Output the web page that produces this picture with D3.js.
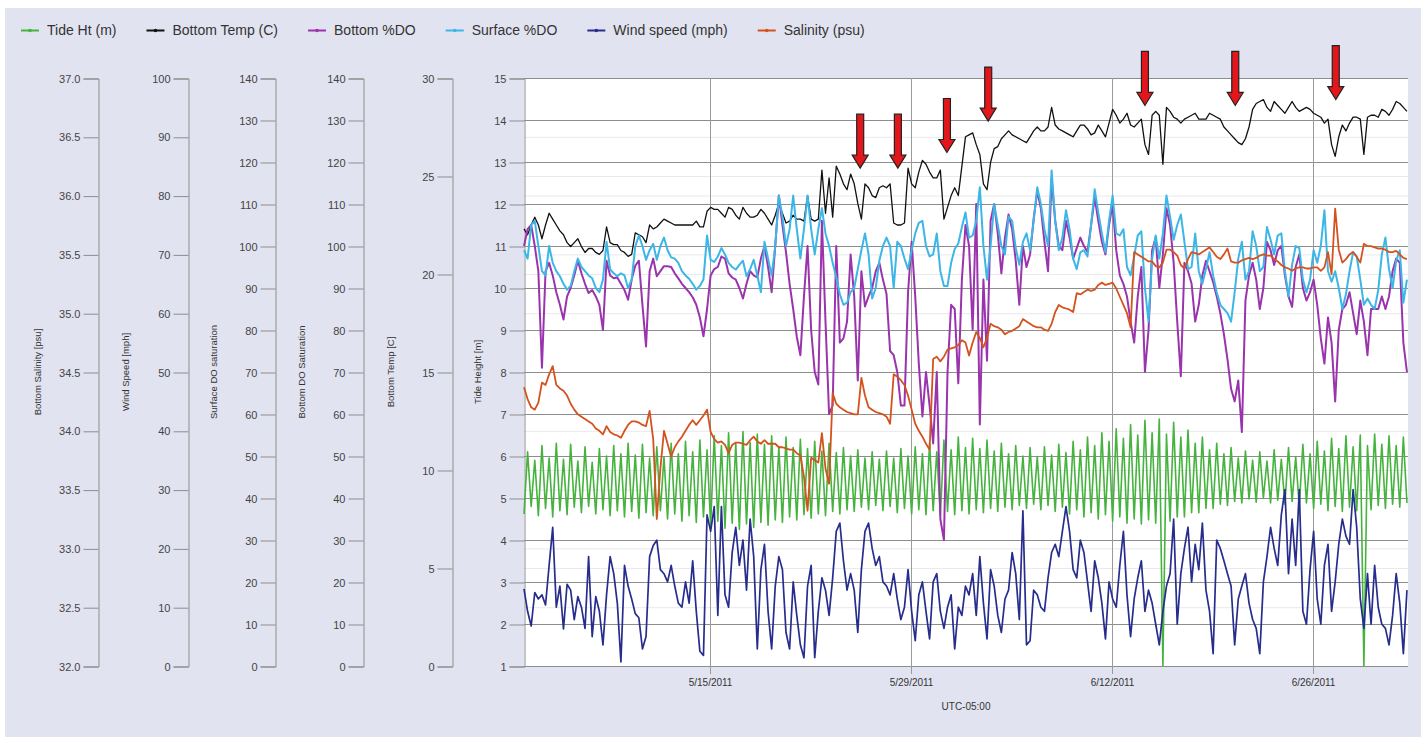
<!DOCTYPE html>
<html>
<head>
<meta charset="utf-8">
<script src="https://cdn.jsdelivr.net/npm/d3@7"></script>
<style>
body { margin: 0; background: #ffffff; }
svg { font-family: "Liberation Sans", Arial, sans-serif; }
</style>
</head>
<body>
<div id="chart"></div>
<script>
// time grid: one reading every 6 hours starting 5/2/2011 01:00
var startTime = new Date(2011, 4, 2, 1, 0)
var endTime = new Date(2011, 6, 2, 14, 45)
var stepHours = 6
var dateTicks = [new Date(2011, 4, 15), new Date(2011, 4, 29), new Date(2011, 5, 12), new Date(2011, 5, 26)]

// series values
var tideHt = [
  4.62, 6.10, 4.80, 5.90, 4.58, 6.25, 4.75, 5.95, 4.55, 6.30, 4.70, 5.92, 4.60, 6.28, 4.78, 5.88,
  4.65, 6.22, 4.80, 5.85, 4.62, 6.18, 4.72, 6.00, 4.58, 6.25, 4.70, 6.05, 4.55, 6.30, 4.68, 6.02,
  4.52, 6.28, 4.65, 5.95, 4.58, 6.22, 4.70, 5.98, 4.50, 6.30, 4.62, 6.05, 4.45, 6.35, 4.58, 6.10,
  4.42, 6.38, 4.55, 6.15, 4.35, 6.48, 4.45, 6.25, 4.28, 6.55, 4.40, 6.30, 4.25, 6.58, 4.38, 6.32,
  4.30, 6.52, 4.42, 6.28, 4.35, 6.48, 4.48, 6.22, 4.42, 6.45, 4.55, 6.20, 4.48, 6.40, 4.60, 6.18,
  4.52, 6.35, 4.62, 6.12, 4.58, 6.30, 4.68, 6.08, 4.62, 6.20, 4.72, 6.00, 4.68, 6.15, 4.78, 5.95,
  4.72, 6.10, 4.82, 5.92, 4.70, 6.12, 4.80, 5.95, 4.65, 6.18, 4.75, 6.00, 4.62, 6.22, 4.72, 6.05,
  4.60, 6.30, 4.70, 6.10, 4.58, 6.38, 4.68, 6.15, 4.60, 6.45, 4.70, 6.20, 4.62, 6.42, 4.72, 6.18,
  4.65, 6.38, 4.75, 6.12, 4.68, 6.30, 4.78, 6.05, 4.72, 6.25, 4.82, 6.00, 4.75, 6.20, 4.85, 5.98,
  4.72, 6.22, 4.82, 6.02, 4.68, 6.28, 4.78, 6.08, 4.62, 6.35, 4.72, 6.15, 4.55, 6.45, 4.65, 6.25,
  4.50, 6.55, 4.60, 6.35, 4.45, 6.65, 4.55, 6.42, 4.40, 6.75, 4.50, 6.50, 4.38, 6.85, 4.48, 6.55,
  4.40, 6.88, 1.00, 6.52, 4.45, 6.80, 4.55, 6.45, 4.55, 6.62, 4.65, 6.30, 4.65, 6.45, 4.75, 6.15,
  4.75, 6.30, 4.85, 6.05, 4.82, 6.20, 4.92, 5.95, 4.88, 6.12, 4.98, 5.90, 4.90, 6.10, 5.00, 5.88,
  4.88, 6.15, 4.95, 5.92, 4.85, 6.20, 4.92, 5.98, 4.80, 6.28, 4.88, 6.05, 4.75, 6.35, 4.85, 6.12,
  4.70, 6.42, 4.80, 6.18, 4.68, 6.48, 4.78, 6.22, 4.70, 6.50, 1.00, 6.25, 4.72, 6.52, 4.82, 6.28,
  4.75, 6.48, 4.85, 6.25, 4.78, 6.45, 4.88
]

var bottomTemp = [
  22.3, 22.0, 22.5, 22.9, 22.5, 21.8, 22.5, 23.1, 22.8, 22.5, 22.2, 22.0, 21.6, 21.4, 21.6, 21.8,
  21.4, 21.1, 21.3, 21.3, 21.1, 21.0, 21.2, 22.4, 21.6, 21.5, 21.5, 21.2, 21.1, 20.9, 21.0, 22.1,
  22.0, 21.9, 21.6, 22.5, 22.3, 22.4, 22.6, 22.8, 22.7, 22.6, 22.5, 22.5, 22.5, 22.5, 22.5, 22.5,
  22.7, 22.4, 22.4, 23.2, 23.4, 23.3, 23.3, 23.1, 22.9, 23.4, 23.3, 23.0, 22.8, 23.4, 23.1, 22.9,
  22.9, 23.0, 23.3, 23.1, 22.8, 22.5, 23.0, 23.6, 23.1, 22.6, 22.7, 23.0, 22.8, 22.8, 22.7, 24.0,
  22.8, 22.7, 22.8, 25.3, 23.1, 24.9, 22.9, 25.5, 25.1, 24.6, 24.3, 25.1, 24.6, 23.6, 22.8, 24.6,
  24.4, 24.0, 23.9, 24.4, 24.5, 24.4, 24.6, 22.6, 22.5, 22.5, 22.6, 25.4, 24.6, 24.4, 25.2, 25.8,
  25.6, 25.2, 24.9, 24.9, 25.3, 22.8, 23.4, 24.0, 24.4, 24.0, 25.5, 27.0, 27.1, 27.2, 26.6, 26.1,
  24.6, 24.3, 25.7, 26.4, 26.5, 26.9, 27.1, 27.3, 27.1, 27.0, 26.9, 26.8, 26.7, 27.0, 27.3, 27.5,
  27.3, 27.3, 27.5, 28.5, 27.6, 27.4, 27.3, 27.2, 27.1, 27.0, 27.3, 27.6, 27.6, 27.4, 27.1, 27.2,
  27.6, 27.3, 27.0, 27.7, 28.4, 28.1, 27.7, 27.9, 28.2, 27.6, 27.5, 27.7, 27.9, 26.6, 26.1, 28.1,
  28.3, 28.1, 25.6, 28.5, 28.3, 28.0, 27.9, 27.7, 27.9, 28.0, 28.1, 28.2, 27.9, 27.9, 27.9, 28.2,
  28.1, 28.0, 27.9, 27.5, 27.3, 27.1, 26.9, 26.7, 26.6, 26.9, 27.5, 28.4, 28.7, 28.8, 28.9, 28.5,
  28.3, 28.8, 28.6, 28.4, 28.2, 28.5, 28.8, 28.5, 28.3, 28.4, 28.5, 28.4, 28.2, 28.1, 28.0, 27.7,
  27.9, 26.6, 26.0, 27.0, 27.6, 27.3, 27.7, 28.0, 28.0, 27.9, 26.1, 28.0, 28.1, 28.1, 28.0, 28.4,
  28.3, 28.1, 28.4, 28.8, 28.7, 28.5, 28.3
]

var bottomDO = [
  100, 104, 105, 100, 94, 71, 94, 96, 93, 89, 86, 82.5, 88, 90, 93, 96.5,
  93.5, 91, 88.8, 89.5, 88, 86, 80, 96.5, 93, 92.3, 92.5, 91, 89.5, 87.2, 92, 95.3,
  96.5, 86, 76.1, 94, 97, 92.8, 94, 95.2, 95.2, 95, 93.5, 92.3, 91, 90, 89, 87.8,
  86, 83, 78.5, 85, 93, 94.5, 95, 97.5, 97, 93.5, 92.5, 92, 90, 87.5, 91, 94,
  93, 92.5, 97, 100, 95, 89, 100, 112, 105, 98.5, 91, 85, 78.4, 74, 88, 100,
  80, 70, 67, 106, 82, 60, 62, 100, 77, 78, 82, 98, 88, 68, 94, 85.6,
  88, 90, 94, 96, 92, 88.6, 75, 74, 70, 62, 62, 89, 101, 88, 72, 59.4,
  70, 62, 53, 70, 35, 30, 70, 86, 85, 67.3, 92, 105, 100, 80, 110, 57.5,
  92, 72.7, 106, 110, 103, 93.5, 102, 107.5, 104, 96.5, 86, 100, 95, 98, 106.5, 113,
  109, 101, 94, 116, 106, 100, 99, 106, 102, 97, 99.5, 102, 100, 98.6, 105, 111.5,
  106, 101, 98, 105, 110, 99, 93, 91, 88, 82, 77, 88, 95, 70, 80, 99,
  102, 90, 98, 109, 105, 96, 82, 69, 96, 94, 91, 82, 86, 93, 96.5, 94,
  91.4, 88, 84, 79, 73, 66, 63, 68, 55.7, 87, 93, 96, 92, 85, 90, 101,
  99, 95.5, 99, 100, 93, 88, 85.5, 95, 98, 90, 87, 89, 92, 86, 78, 72,
  83, 77, 63, 80, 85, 86, 89, 84, 79, 87, 82, 74, 85, 85, 85, 88,
  85, 88, 94, 97, 96, 77, 70
]

var surfaceDO = [
  99, 97, 105, 106, 100, 94, 93, 100, 96, 94, 92.8, 91, 89.6, 90.5, 94, 97,
  95, 94, 93, 92.3, 90, 89, 92, 101, 94.4, 93.5, 92.8, 93.5, 93, 90, 92, 99.9,
  102.5, 100, 96.7, 99, 100.5, 96.7, 100, 102, 99, 97.3, 97, 96, 94, 93, 92.2, 91,
  89.6, 90.5, 92, 102.5, 96.7, 96.2, 97.5, 99.5, 98, 96, 95, 94.4, 95.5, 96.5, 92.8, 94.5,
  96.7, 93, 89, 101, 97, 93, 100, 112, 107, 100, 104, 112, 104, 97, 104, 112,
  104, 98, 104, 109, 103, 100, 96, 92.5, 88.5, 86, 86.5, 89, 90, 94.5, 99, 103,
  98, 87.5, 90, 96.5, 100, 102, 100, 90, 101, 100, 97, 94.5, 99, 103, 105.5, 106,
  100, 97.5, 98, 103, 94, 90.5, 90.5, 96, 99.3, 100.6, 104.5, 108, 102, 102.5, 106, 114,
  100, 92, 100, 110, 105, 100, 98, 107, 106, 99.5, 95.5, 101, 103, 99, 106, 114,
  110, 104, 100, 118, 106, 99, 102, 108.5, 104, 97, 94.5, 98.5, 99, 97.5, 105, 113.5,
  108, 103, 98.5, 106, 112, 103, 102.5, 104, 95, 93, 97.5, 102.5, 103.5, 90, 82, 97,
  102.5, 97, 103, 112, 107, 101.5, 105, 107.5, 101, 94.5, 95, 103, 94, 91, 94.5, 98.5,
  93, 89, 86, 85, 84, 82, 89, 97, 101, 92, 94, 103.5, 100, 94, 95, 104.5,
  101.5, 98, 102.5, 103, 94, 88, 95.5, 100, 99.5, 92, 89, 92, 99, 96, 100, 108.5,
  94, 91.5, 94, 90, 85, 88.5, 94, 98.5, 97.5, 92, 86, 87.5, 86, 85, 89.5, 98,
  102, 94.5, 90, 96.5, 99, 86.5, 92
]

var windSpeed = [
  13.1, 9.3, 6.8, 12.5, 11.4, 12.1, 10.4, 17.1, 23.6, 10.0, 13.6, 6.3, 13.9, 12.9, 7.9, 11.8,
  10.0, 6.4, 18.6, 5.0, 11.8, 9.3, 3.6, 12.1, 18.6, 15.7, 10.7, 0.7, 17.1, 13.6, 11.4, 8.9,
  8.2, 2.9, 5.0, 18.6, 20.5, 21.4, 16.4, 15.7, 14.3, 17.1, 13.6, 10.7, 10.0, 14.3, 10.7, 17.9,
  9.3, 2.5, 1.8, 25.7, 22.9, 27.1, 8.6, 27.1, 12.1, 10.0, 19.3, 23.6, 17.1, 21.4, 12.9, 25.0,
  18.6, 2.9, 16.4, 20.7, 9.3, 2.9, 13.6, 18.6, 16.4, 5.7, 2.9, 14.3, 8.6, 3.6, 1.4, 13.6,
  17.1, 1.4, 9.3, 15.0, 12.9, 8.6, 15.0, 22.9, 24.3, 17.9, 12.9, 15.7, 12.9, 5.7, 16.4, 22.9,
  24.3, 20.0, 17.1, 18.6, 14.3, 13.6, 12.1, 15.7, 11.4, 7.9, 10.0, 16.4, 9.3, 4.3, 12.1, 14.3,
  9.3, 4.6, 14.3, 15.7, 9.3, 6.4, 10.0, 12.1, 2.9, 10.0, 8.6, 13.6, 12.1, 15.7, 8.6, 18.6,
  10.7, 4.6, 16.4, 13.6, 8.6, 5.7, 11.4, 12.9, 19.3, 15.7, 7.9, 26.4, 3.6, 4.3, 12.9, 12.1,
  10.0, 9.3, 15.0, 19.3, 20.7, 18.6, 22.9, 27.1, 22.9, 16.4, 15.0, 21.4, 19.3, 14.3, 9.3, 17.9,
  15.0, 10.7, 4.6, 14.3, 11.4, 10.0, 17.1, 22.9, 12.1, 5.0, 11.4, 15.0, 17.9, 9.3, 12.9, 10.7,
  7.1, 3.6, 9.3, 13.6, 15.7, 25.0, 7.1, 15.7, 20.0, 23.6, 14.3, 20.7, 16.4, 24.3, 12.9, 9.3,
  2.1, 21.4, 20.0, 17.9, 15.7, 13.6, 3.6, 11.4, 13.6, 15.7, 10.7, 7.9, 6.4, 2.1, 14.3, 18.6,
  23.6, 20.0, 17.1, 25.7, 30.0, 15.7, 25.0, 17.1, 30.0, 9.3, 7.1, 16.4, 22.9, 11.4, 7.1, 17.1,
  20.7, 9.3, 14.3, 20.7, 25.0, 22.1, 20.7, 30.0, 23.6, 11.4, 6.4, 15.7, 7.1, 17.1, 10.0, 7.1,
  6.4, 3.6, 8.6, 15.7, 10.7, 2.1, 12.9
]

var salinity = [
  34.37, 34.27, 34.20, 34.18, 34.24, 34.41, 34.39, 34.48, 34.55, 34.39, 34.36, 34.34, 34.30, 34.23, 34.18, 34.14,
  34.12, 34.10, 34.08, 34.06, 34.02, 34.00, 33.97, 34.04, 33.99, 33.97, 33.96, 33.94, 34.00, 34.05, 34.08, 34.08,
  34.07, 34.05, 34.04, 34.17, 33.93, 33.25, 33.68, 34.00, 33.89, 33.78, 33.86, 33.91, 33.95, 34.00, 34.05, 34.09,
  34.05, 34.09, 34.13, 34.18, 33.99, 33.93, 33.90, 33.91, 33.88, 33.81, 33.88, 33.90, 33.90, 33.89, 33.88, 33.92,
  33.95, 33.91, 33.89, 33.92, 33.89, 33.89, 33.89, 33.86, 33.86, 33.85, 33.84, 33.84, 33.81, 33.79, 33.61, 33.32,
  33.77, 33.75, 33.73, 33.98, 33.68, 33.55, 34.32, 34.23, 34.20, 34.18, 34.16, 34.15, 34.14, 34.14, 34.45, 34.30,
  34.20, 34.18, 34.16, 34.15, 34.14, 34.12, 34.06, 34.48, 34.46, 34.43, 34.39, 34.30, 34.18, 34.06, 34.00, 33.95,
  33.89, 33.84, 34.61, 34.63, 34.59, 34.63, 34.69, 34.70, 34.71, 34.73, 34.77, 34.75, 34.64, 34.75, 34.84, 34.79,
  34.71, 34.79, 34.91, 34.89, 34.88, 34.86, 34.82, 34.84, 34.85, 34.87, 34.89, 34.95, 34.93, 34.91, 34.89, 34.88,
  34.88, 34.86, 34.85, 34.91, 35.01, 35.07, 35.05, 35.04, 35.03, 35.01, 35.17, 35.16, 35.18, 35.20, 35.19, 35.20,
  35.24, 35.26, 35.24, 35.25, 35.26, 35.21, 35.14, 35.07, 35.00, 34.88, 35.52, 35.50, 35.48, 35.46, 35.44, 35.44,
  35.40, 35.39, 35.43, 35.54, 35.54, 35.52, 35.49, 35.41, 35.38, 35.46, 35.52, 35.51, 35.50, 35.52, 35.54, 35.56,
  35.52, 35.48, 35.46, 35.50, 35.55, 35.44, 35.43, 35.43, 35.45, 35.46, 35.47, 35.46, 35.47, 35.49, 35.50, 35.49,
  35.49, 35.46, 35.44, 35.41, 35.39, 35.38, 35.36, 35.38, 35.39, 35.39, 35.38, 35.38, 35.39, 35.39, 35.36, 35.39,
  35.52, 35.33, 35.89, 35.54, 35.43, 35.46, 35.50, 35.52, 35.48, 35.43, 35.59, 35.57, 35.57, 35.56, 35.55, 35.55,
  35.54, 35.52, 35.52, 35.53, 35.50, 35.47, 35.46
]

// red arrows pointing at the temperature drops
var arrowDates = [new Date(2011, 4, 25, 11), new Date(2011, 4, 28, 2), new Date(2011, 4, 31, 12), new Date(2011, 5, 3, 9),
  new Date(2011, 5, 14, 7), new Date(2011, 5, 20, 14), new Date(2011, 5, 27, 14)]
var arrowTemps = [25.4, 25.4, 26.2, 27.8, 28.6, 28.6, 28.9]

// tick labels
var salTicks = [32, 32.5, 33, 33.5, 34, 34.5, 35, 35.5, 36, 36.5, 37]
var windTicks = [0, 10, 20, 30, 40, 50, 60, 70, 80, 90, 100]
var doTicks = [0, 10, 20, 30, 40, 50, 60, 70, 80, 90, 100, 110, 120, 130, 140]
var tempTicks = [0, 5, 10, 15, 20, 25, 30]
var tideTicks = [1, 2, 3, 4, 5, 6, 7, 8, 9, 10, 11, 12, 13, 14, 15]

var legendNames = ['Tide Ht (m)', 'Bottom Temp (C)', 'Bottom %DO', 'Surface %DO', 'Wind speed (mph)', 'Salinity (psu)']
var legendColors = ['#46b33f', '#111111', '#9a34ad', '#3cb6e6', '#272d8c', '#d4521e']

var times = tideHt.map((d, i) => new Date(startTime.getTime() + i * stepHours * 3600000))

var w = 1426
var h = 741
var plotL = 524, plotR = 1408, plotT = 78, plotB = 666

var svg = d3.select('#chart')
    .append('svg')
    .attr('width', w)
    .attr('height', h)

svg.append('rect')
    .attr('x', 5).attr('y', 8)
    .attr('width', 1416).attr('height', 729)
    .attr('fill', '#e2e3f0')

svg.append('rect')
    .attr('x', plotL).attr('y', plotT)
    .attr('width', plotR - plotL).attr('height', plotB - plotT)
    .attr('fill', '#ffffff')

// scales (every series has its own axis, all on the same pixel band)
var x = d3.scaleTime().domain([startTime, endTime]).range([plotL, plotR])
var yTide = d3.scaleLinear().domain([1, 15]).range([plotB, plotT])
var ySal = d3.scaleLinear().domain([32, 37]).range([plotB, plotT])
var yWind = d3.scaleLinear().domain([0, 100]).range([plotB, plotT])
var ySurf = d3.scaleLinear().domain([0, 140]).range([plotB, plotT])
var yBot = d3.scaleLinear().domain([0, 140]).range([plotB, plotT])
var yTemp = d3.scaleLinear().domain([0, 30]).range([plotB, plotT])

// faint grid from the salinity and temperature axes
var faint = svg.append('g')
faint.selectAll('.fs')
    .data(salTicks.slice(1, -1))
    .enter().append('line')
    .attr('x1', plotL).attr('x2', plotR)
    .attr('y1', d => ySal(d) + 0.5).attr('y2', d => ySal(d) + 0.5)
    .attr('stroke', '#e9e9ee')
faint.selectAll('.ft')
    .data(tempTicks.slice(1, -1))
    .enter().append('line')
    .attr('x1', plotL).attr('x2', plotR)
    .attr('y1', d => yTemp(d) + 0.5).attr('y2', d => yTemp(d) + 0.5)
    .attr('stroke', '#e9e9ee')

// main grid
svg.append('g').selectAll('line')
    .data(tideTicks)
    .enter().append('line')
    .attr('x1', plotL).attr('x2', plotR)
    .attr('y1', d => Math.round(yTide(d)) + 0.5).attr('y2', d => Math.round(yTide(d)) + 0.5)
    .attr('stroke', '#8d8d8d')

svg.append('g').selectAll('line')
    .data(dateTicks)
    .enter().append('line')
    .attr('x1', d => Math.round(x(d)) + 0.5).attr('x2', d => Math.round(x(d)) + 0.5)
    .attr('y1', plotT).attr('y2', plotB + 8)
    .attr('stroke', '#9a9a9a')

// left axes
var leftAxes = [
    {scale: ySal, ax: 98, ticks: salTicks, fmt: d3.format('.1f'), title: 'Bottom Salinity [psu]', tx: 38},
    {scale: yWind, ax: 188, ticks: windTicks, fmt: d3.format('d'), title: 'Wind Speed [mph]', tx: 126},
    {scale: ySurf, ax: 275, ticks: doTicks, fmt: d3.format('d'), title: 'Surface DO saturation', tx: 214},
    {scale: yBot, ax: 363, ticks: doTicks, fmt: d3.format('d'), title: 'Bottom DO Saturation', tx: 302},
    {scale: yTemp, ax: 452, ticks: tempTicks, fmt: d3.format('d'), title: 'Bottom Temp [C]', tx: 391},
    {scale: yTide, ax: plotL, ticks: tideTicks, fmt: d3.format('d'), title: 'Tide Height [m]', tx: 478}
]

leftAxes.forEach(function(a) {
    var g = svg.append('g')
        .attr('transform', 'translate(' + (a.ax + 0.5) + ',0.5)')
        .call(d3.axisLeft(a.scale).tickValues(a.ticks).tickFormat(a.fmt).tickSize(15).tickPadding(3))
    g.select('.domain').attr('stroke', '#8d8d8d')
    g.selectAll('.tick line').attr('stroke', '#8d8d8d')
    g.selectAll('.tick text')
        .attr('fill', '#444')
        .style('font-size', '11px')
        .style('font-family', '"Liberation Sans", Arial, sans-serif')

    svg.append('text')
        .attr('transform', 'translate(' + a.tx + ',' + ((plotT + plotB) / 2) + ') rotate(-90)')
        .attr('text-anchor', 'middle')
        .attr('dy', '0.35em')
        .attr('fill', '#333')
        .style('font-size', '9.5px')
        .text(a.title)
})

// date axis
var xg = svg.append('g')
    .attr('transform', 'translate(0,' + plotB + ')')
    .call(d3.axisBottom(x).tickValues(dateTicks).tickFormat(d3.timeFormat('%-m/%-d/%Y')).tickSize(8).tickSizeOuter(0))
xg.select('.domain').remove()
xg.selectAll('.tick line').remove()
xg.selectAll('.tick text')
    .attr('fill', '#333')
    .attr('y', 13)
    .style('font-size', '10px')
    .style('font-family', '"Liberation Sans", Arial, sans-serif')

svg.append('text')
    .attr('x', (plotL + plotR) / 2)
    .attr('y', 710)
    .attr('text-anchor', 'middle')
    .attr('fill', '#333')
    .style('font-size', '10px')
    .text('UTC-05:00')

// series, drawn in legend order
var series = [
    {vals: tideHt, scale: yTide, color: legendColors[0], width: 1.6},
    {vals: bottomTemp, scale: yTemp, color: legendColors[1], width: 1.3},
    {vals: bottomDO, scale: yBot, color: legendColors[2], width: 2},
    {vals: surfaceDO, scale: ySurf, color: legendColors[3], width: 2},
    {vals: windSpeed, scale: yWind, color: legendColors[4], width: 1.7},
    {vals: salinity, scale: ySal, color: legendColors[5], width: 1.8}
]

var plotArea = svg.append('g')
series.forEach(function(s) {
    var line = d3.line()
        .x((d, i) => x(times[i]))
        .y(d => s.scale(d))
    plotArea.append('path')
        .datum(s.vals)
        .attr('d', line)
        .attr('fill', 'none')
        .attr('stroke', s.color)
        .attr('stroke-width', s.width)
        .attr('stroke-linejoin', 'round')
})

// arrows
var arrowShape = 'M0,0 L-8,-13 L-3.5,-13 L-3.5,-54 L3.5,-54 L3.5,-13 L8,-13 Z'
svg.append('g').selectAll('path')
    .data(arrowDates)
    .enter().append('path')
    .attr('transform', (d, i) => 'translate(' + x(d) + ',' + yTemp(arrowTemps[i]) + ')')
    .attr('d', arrowShape)
    .attr('fill', '#e3161b')
    .attr('stroke', '#222')
    .attr('stroke-width', 1.2)

// legend
var legend = svg.append('g').attr('transform', 'translate(0,30)')
var lx = 21
legendNames.forEach(function(name, i) {
    legend.append('line')
        .attr('x1', lx).attr('x2', lx + 18)
        .attr('y1', 0.5).attr('y2', 0.5)
        .attr('stroke', legendColors[i])
        .attr('stroke-width', 2)
    legend.append('circle')
        .attr('cx', lx + 9).attr('cy', 0.5).attr('r', 1.8)
        .attr('fill', legendColors[i])
    var t = legend.append('text')
        .attr('x', lx + 26)
        .attr('y', 0)
        .attr('dy', '0.35em')
        .attr('fill', '#333')
        .style('font-size', '14px')
        .text(name)
    lx = lx + 26 + t.node().getComputedTextLength() + 30
})
</script>
</body>
</html>
